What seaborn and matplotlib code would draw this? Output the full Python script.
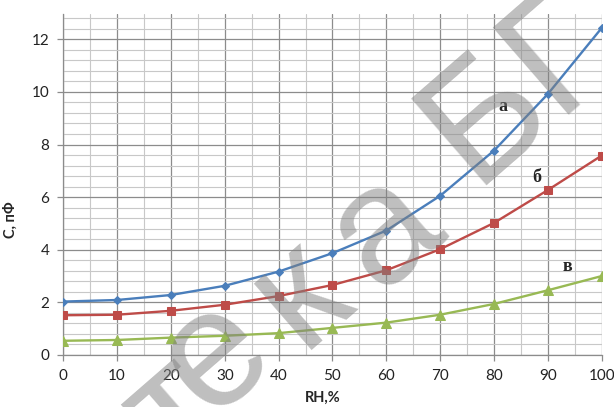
import numpy as np
import pandas as pd
import matplotlib
matplotlib.use("Agg")
import matplotlib.pyplot as plt
from matplotlib.ticker import MultipleLocator
import seaborn as sns

rh = [0, 10, 20, 30, 40, 50, 60, 70, 80, 90, 100]
c_a = [2.03, 2.09, 2.28, 2.63, 3.17, 3.87, 4.73, 6.05, 7.77, 9.92, 12.43]
c_b = [1.51, 1.53, 1.68, 1.91, 2.24, 2.66, 3.22, 4.02, 5.02, 6.27, 7.58]
c_v = [0.54, 0.57, 0.66, 0.73, 0.83, 1.03, 1.23, 1.53, 1.94, 2.46, 3.00]
series_labels = ["а", "б", "в"]
x_ticks = [0, 10, 20, 30, 40, 50, 60, 70, 80, 90, 100]
y_ticks = [0, 2, 4, 6, 8, 10, 12]

sns.set_style("white")
plt.rcParams['font.family'] = ['Lato', 'DejaVu Sans']

fig = plt.figure(figsize=(6.14, 4.07), dpi=100)
ax = fig.add_axes([0.103, 0.1278, 0.877, 0.8378])

colors = ["#4a7ebb", "#be4b48", "#98b954"]
markers = ["D", "s", "^"]
msizes = [4.5, 6, 6.5]
for vals, col, mk, ms in zip([c_a, c_b, c_v], colors, markers, msizes):
    df = pd.DataFrame({"RH": rh, "C": vals})
    sns.lineplot(data=df, x="RH", y="C", ax=ax, color=col, marker=mk,
                 markersize=ms, markeredgecolor=col, linewidth=1.7, zorder=3)

ax.set_xlim(0, 100)
ax.set_ylim(0, 12.96)
ax.set_xticks(x_ticks)
ax.set_yticks(y_ticks)
ax.xaxis.set_minor_locator(MultipleLocator(5))
ax.yaxis.set_minor_locator(MultipleLocator(0.4))
ax.grid(which="major", color="#8c8c8c", linewidth=0.9)
ax.grid(which="minor", color="#c8c8c8", linewidth=0.8)
ax.set_axisbelow(True)
for s in ["top", "right"]:
    ax.spines[s].set_visible(False)
for s in ["left", "bottom"]:
    ax.spines[s].set_color("#8c8c8c")
    ax.spines[s].set_linewidth(0.9)
ax.tick_params(which="major", length=4, width=0.9, color="#8c8c8c",
               labelsize=11, labelcolor="#222222", pad=6)
ax.tick_params(which="minor", length=0)
ax.tick_params(axis="x", bottom=True)
ax.tick_params(axis="y", left=True)

ax.set_xlabel("RH,%", fontsize=10.5, fontweight="bold")
ax.set_ylabel("C, пФ", fontsize=10.5, fontweight="bold")
ax.xaxis.set_label_coords(0.482, -0.106)
ax.yaxis.set_label_coords(-0.084, 0.396)

label_pos = [(81.7, 9.43), (88.0, 6.73), (93.7, 3.35)]
for lab, (lx, ly) in zip(series_labels, label_pos):
    ax.text(lx, ly, lab, fontsize=13, fontweight="bold",
            family=["Liberation Serif"], ha="center", va="center", zorder=4)

# watermark (spaced letters)
wm_kw = dict(fontsize=120, color="#808080", alpha=0.5, rotation=41,
             rotation_mode="anchor", va="baseline", family=["Liberation Sans"],
             zorder=10)
for ch, (fx, fy) in zip("тека", [(0.334, -0.098), (0.397, 0.0455),
                                 (0.534, 0.200), (0.673, 0.355)]):
    fig.text(fx, fy, ch, ha="center", **wm_kw)
fig.text(0.770, 0.545, "БГУИР", ha="left", **wm_kw)

fig.savefig("out.png", dpi=100)
